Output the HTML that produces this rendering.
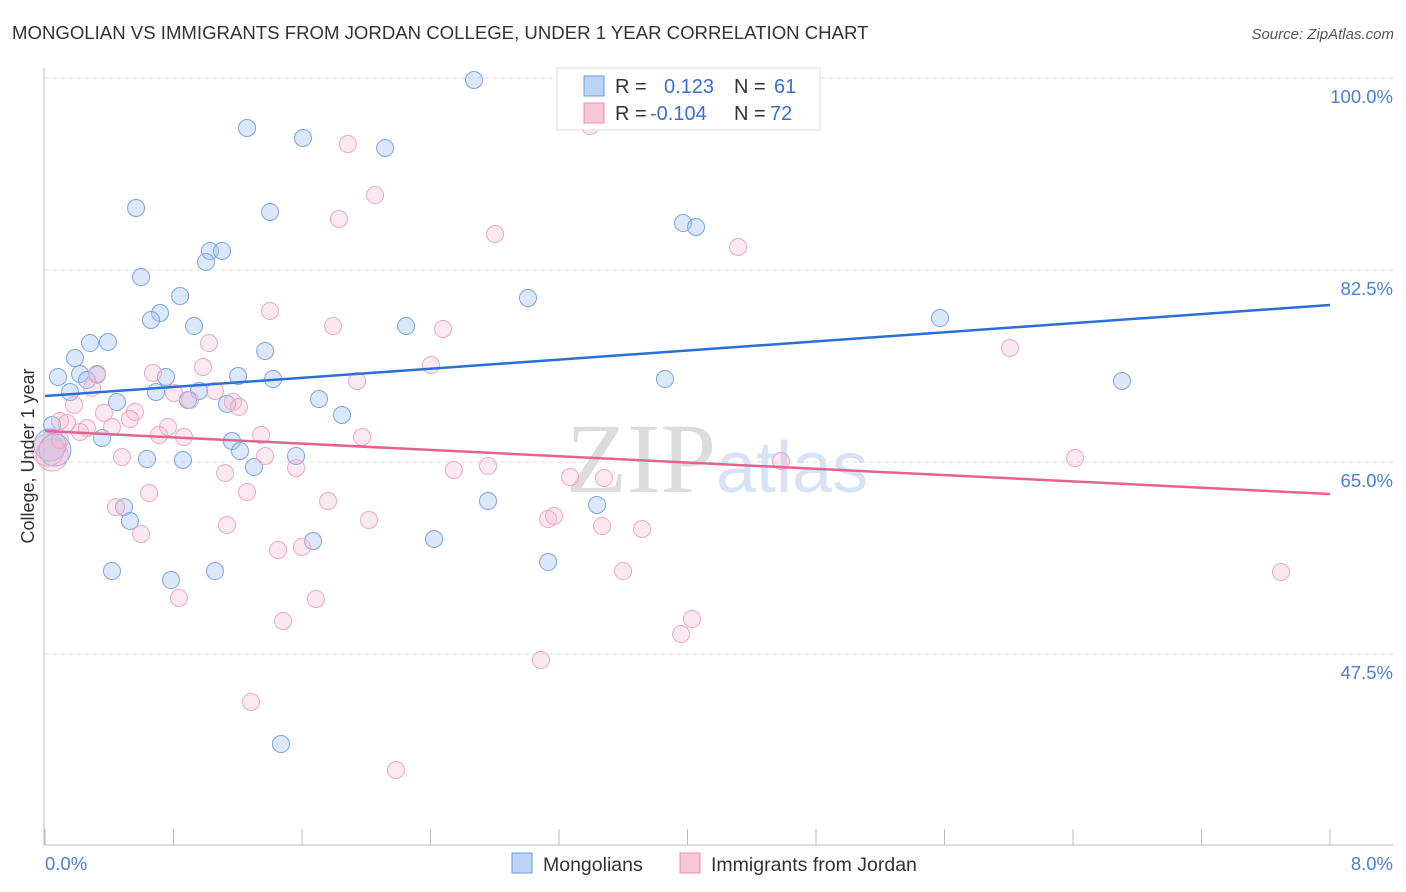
<!DOCTYPE html>
<html><head><meta charset="utf-8"><style>
body{margin:0;background:#fff;font-family:"Liberation Sans",sans-serif}
svg{display:block}
</style></head><body>
<svg id="c" width="1406" height="892">
<text x="12" y="39" font-size="18.6" fill="#333">MONGOLIAN VS IMMIGRANTS FROM JORDAN COLLEGE, UNDER 1 YEAR CORRELATION CHART</text>
<text x="1394" y="39" font-size="15" fill="#555" font-style="italic" text-anchor="end">Source: ZipAtlas.com</text>
<text x="716" y="492" font-size="100" fill="#dcdcdc" text-anchor="end" font-family="Liberation Serif,serif">ZIP</text>
<text x="716" y="492" font-size="72" fill="#d5e3f5">atlas</text>
<g id="grid"></g>
<g id="pts"></g>
<g id="lines"></g>
<text transform="translate(34,456) rotate(-90)" font-size="18" fill="#333" text-anchor="middle">College, Under 1 year</text>
<text x="45" y="870" font-size="18.5" fill="#4a7fd4">0.0%</text>
<text x="1393" y="870" font-size="18.5" fill="#4a7fd4" text-anchor="end">8.0%</text>
<g>
<rect x="557" y="68" width="263" height="62" fill="#fff" stroke="#ddd"/>
<rect x="584" y="76" width="20" height="20" fill="#bcd3f5" stroke="#6a9be0"/>
<rect x="584" y="103" width="20" height="20" fill="#f9c6d6" stroke="#e890b0"/>
<text x="615" y="93" font-size="20" fill="#333">R =</text><text x="664" y="93" font-size="20" fill="#3a6fd0">0.123</text>
<text x="734" y="93" font-size="20" fill="#333">N =</text><text x="774" y="93" font-size="20" fill="#3a6fd0">61</text>
<text x="615" y="120" font-size="20" fill="#333">R =</text><text x="650" y="120" font-size="20" fill="#3a6fd0">-0.104</text>
<text x="734" y="120" font-size="20" fill="#333">N =</text><text x="770" y="120" font-size="20" fill="#3a6fd0">72</text>
</g>
<g>
<rect x="512" y="853" width="20" height="20" fill="#bcd3f5" stroke="#6a9be0"/>
<text x="543" y="871" font-size="19.5" fill="#333">Mongolians</text>
<rect x="680" y="853" width="20" height="20" fill="#f9c6d6" stroke="#e890b0"/>
<text x="711" y="871" font-size="19.5" fill="#333">Immigrants from Jordan</text>
</g>
</svg>
<script>
const blueX=[2.671,1.258,1.606,2.117,.567,1.401,3.972,4.053,1.027,1.102,1.002,.598,.841,3.007,.716,.660,.928,2.248,5.572,.280,.392,.187,1.370,.081,.218,.261,.324,.753,1.202,1.420,3.860,6.705,.156,.691,.959,.448,.890,1.133,1.706,1.849,.044,.355,1.164,1.214,.635,.859,1.563,1.301,2.758,3.437,.492,.529,1.669,2.422,3.132,.417,1.058,.784,1.469,.031,.062];
const blueY=[99.82,95.44,94.53,93.62,88.15,87.79,86.78,86.42,84.23,84.23,83.23,81.86,80.13,79.95,78.58,77.94,77.39,77.39,78.12,75.84,75.94,74.48,75.12,72.75,73.02,72.47,73.02,72.75,72.84,72.56,72.56,72.38,71.38,71.38,71.47,70.47,70.65,70.29,70.74,69.28,68.37,67.19,66.91,66.00,65.27,65.18,65.55,64.54,61.44,61.08,60.89,59.62,57.80,57.98,55.88,55.06,55.06,54.24,39.29,66.55,66.09];
const pinkX=[3.393,1.886,2.055,1.830,2.802,4.315,1.401,1.793,2.478,1.021,6.008,2.403,.984,.672,.324,1.943,.293,.803,1.058,.903,1.170,.181,1.208,.367,.560,.529,.093,.137,.261,.417,.766,.218,.710,.865,1.345,1.974,.479,1.370,1.563,2.546,2.758,3.269,3.480,4.582,6.413,1.121,.648,1.258,1.762,.442,2.017,3.132,3.169,3.468,3.717,1.133,.598,1.451,1.600,3.599,7.695,.834,1.687,1.482,4.028,3.960,3.088,1.283,2.185,.044,.019,.093];
const pinkY=[95.62,93.98,89.33,87.15,85.78,84.60,78.76,77.39,77.12,75.84,75.39,73.84,73.66,73.11,72.93,72.38,71.75,71.29,71.47,70.65,70.47,70.20,70.02,69.47,69.56,68.92,68.74,68.55,68.10,68.19,68.19,67.73,67.46,67.28,67.46,67.28,65.45,65.55,64.45,64.27,64.63,63.63,63.54,65.09,65.36,63.99,62.17,62.26,61.44,60.89,59.71,59.80,60.08,59.16,58.89,59.26,58.44,56.98,57.25,55.06,54.97,52.60,52.51,50.51,50.69,49.32,46.95,43.12,36.92,65.64,66.09,67.00];
const blueTrend=[71.01,79.31];
const pinkTrend=[67.82,62.08];
const yTicks=[100,82.5,65,47.5];
const xTicks=[0,0.8,1.6,2.4,3.2,4,4.8,5.6,6.4,7.2,8];
const NS='http://www.w3.org/2000/svg';
const sx=v=>45+v/8*1285;
const sy=v=>78+(100-v)*10.971;
function mk(tag,attrs,parent){const e=document.createElementNS(NS,tag);for(const k in attrs)e.setAttribute(k,attrs[k]);parent.appendChild(e);return e;}
const grid=document.getElementById('grid');
yTicks.forEach(t=>{
 const l=mk('line',{x1:45,x2:1393,y1:sy(t),y2:sy(t),stroke:'#ddd','stroke-dasharray':'4,4'},grid);
 
 
 const tx=mk('text',{x:1393,y:sy(t)+25,'font-size':18.5,fill:'#4a7fd4','text-anchor':'end'},grid);
 tx.textContent=t.toFixed(1)+'%';
 
 
});
const ax=mk('line',{x1:44,x2:44,y1:68,y2:845,stroke:'#bbb'},grid);


const bx=mk('line',{x1:44,x2:1393,y1:845,y2:845,stroke:'#bbb'},grid);


xTicks.forEach(t=>{
 const l=mk('line',{x1:sx(t),x2:sx(t),y1:829,y2:845,stroke:'#bbb'},grid);
 
 
});
const pts=document.getElementById('pts');
function draw(xs,ys,fill,stroke,name){
 xs.forEach((x,i)=>{
  const big=(x<0.1&&ys[i]>65.5&&ys[i]<67)?16:8.5;
  const c=mk('circle',{cx:sx(x),cy:sy(ys[i]),r:big,fill:fill,stroke:stroke,'stroke-width':1},pts);
  
  
 });
}
draw(blueX,blueY,'rgba(168,198,240,0.4)','#7aa5e4','mongolian-point');
draw(pinkX,pinkY,'rgba(246,180,204,0.3)','#efa6c0','jordan-point');
const lines=document.getElementById('lines');
const b=mk('line',{x1:sx(0),y1:sy(blueTrend[0]),x2:sx(8),y2:sy(blueTrend[1]),stroke:'#2a6fd6','stroke-width':2.5},lines);


const p=mk('line',{x1:sx(0),y1:sy(pinkTrend[0]),x2:sx(8),y2:sy(pinkTrend[1]),stroke:'#e5628f','stroke-width':2.5},lines);


</script>
</body></html>
